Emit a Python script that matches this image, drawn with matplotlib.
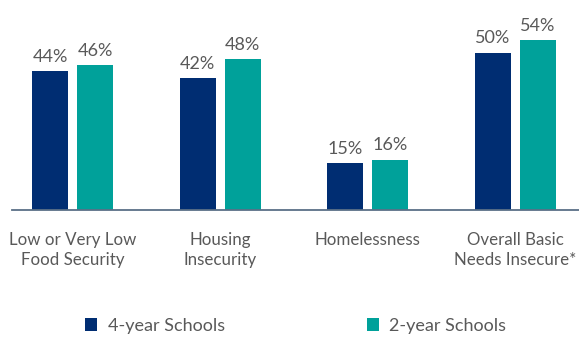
import numpy as np
import matplotlib
matplotlib.use("Agg")
import matplotlib.pyplot as plt

categories = ["Low or Very Low\nFood Security", "Housing\nInsecurity",
              "Homelessness", "Overall Basic\nNeeds Insecure*"]
four_year = [44, 42, 15, 50]
two_year = [46, 48, 16, 54]
series_names = ["4-year Schools", "2-year Schools"]

navy = "#002d72"
teal = "#00a19a"
text_grey = "#595959"

plt.rcParams['font.family'] = ['Lato', 'DejaVu Sans']

W, H = 579, 338
fig = plt.figure(figsize=(W / 100, H / 100), dpi=100)
ax = fig.add_axes([12 / W, (H - 210) / H, 567 / W, 210 / H])

x = np.arange(len(categories))
width = 0.244
offset = 0.152

b1 = ax.bar(x - offset, four_year, width, color=navy, label=series_names[0])
b2 = ax.bar(x + offset, two_year, width, color=teal, label=series_names[1])

for bars in (b1, b2):
    ax.bar_label(bars, labels=[f"{v}%" for v in bars.datavalues],
                 padding=4.5, fontsize=13, color=text_grey)

ax.set_xlim(-0.41, 3.43)
ax.set_ylim(0, 66.7)

ax.set_xticks(x)
ax.set_xticklabels(categories, fontsize=12.2, color=text_grey, linespacing=1.33)
ax.tick_params(axis='x', length=0, pad=15.5)
ax.set_yticks([])

for side in ("top", "left", "right"):
    ax.spines[side].set_visible(False)
ax.spines["bottom"].set_color("#5b7087")
ax.spines["bottom"].set_linewidth(1.3)

fig.legend(handles=[b1, b2], labels=series_names, loc="center left",
           bbox_to_anchor=(85 / W, 12.5 / H), ncol=2, frameon=False,
           fontsize=13, labelcolor=text_grey, handlelength=0.66,
           handleheight=0.75, handletextpad=0.6, columnspacing=7.85,
           borderpad=0, borderaxespad=0)

fig.savefig("out.png", dpi=100)
